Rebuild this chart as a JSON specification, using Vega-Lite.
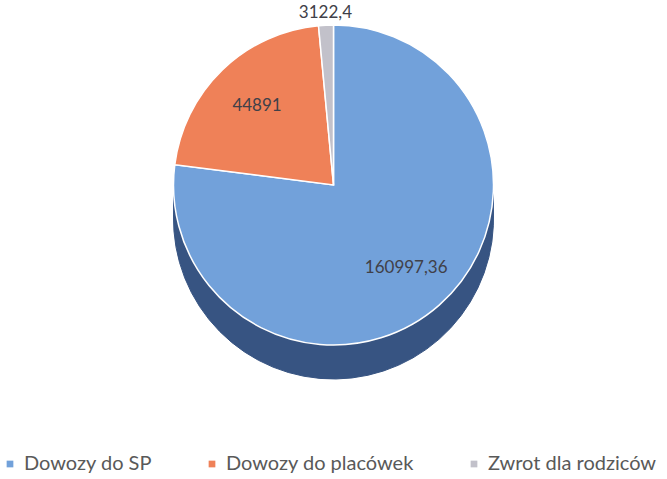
{
  "$schema": "https://vega.github.io/schema/vega-lite/v6.json",
  "width": 667,
  "height": 370,
  "padding": 0,
  "background": "white",
  "data": {
    "values": [
      {"cat": "Dowozy do SP", "value": 160997.36, "label": "160997,36"},
      {"cat": "Dowozy do placówek", "value": 44891, "label": "44891"},
      {"cat": "Zwrot dla rodziców", "value": 3122.4, "label": "3122,4"}
    ]
  },
  "encoding": {
    "theta": {"field": "value", "type": "quantitative", "stack": true},
    "order": {"field": "cat", "sort": "ascending"}
  },
  "layer": [
    {
      "mark": {"type": "arc", "outerRadius": 160, "yOffset": 12, "color": "#41619a", "stroke": "#41619a", "strokeWidth": 1}
    },
    {
      "mark": {"type": "arc", "outerRadius": 160, "yOffset": 24, "color": "#3d5c90", "stroke": "#3d5c90", "strokeWidth": 1}
    },
    {
      "mark": {"type": "arc", "outerRadius": 160, "yOffset": 34, "color": "#375482", "stroke": "#375482", "strokeWidth": 1}
    },
    {
      "mark": {"type": "arc", "outerRadius": 160, "stroke": "white", "strokeWidth": 1.5},
      "encoding": {
        "color": {
          "field": "cat",
          "type": "nominal",
          "scale": {
            "domain": ["Dowozy do SP", "Dowozy do placówek", "Zwrot dla rodziców"],
            "range": ["#72a1da", "#ef8158", "#c2c1ca"]
          },
          "legend": {
            "title": null,
            "orient": "bottom",
            "direction": "horizontal",
            "offset": 84,
            "symbolType": "square",
            "symbolSize": 45,
            "symbolStrokeWidth": 0,
            "labelFont": "Lato",
            "labelFontSize": 20,
            "labelColor": "#595959",
            "columnPadding": 50,
            "labelLimit": 300
          }
        }
      }
    },
    {
      "mark": {"type": "text", "radius": 110, "font": "Lato", "fontSize": 17, "color": "#404048"},
      "encoding": {
        "text": {
          "condition": {"test": "datum.cat !== 'Zwrot dla rodziców'", "field": "label"},
          "value": ""
        }
      }
    },
    {
      "mark": {"type": "text", "radius": 172, "font": "Lato", "fontSize": 17, "color": "#404048"},
      "encoding": {
        "text": {
          "condition": {"test": "datum.cat === 'Zwrot dla rodziców'", "field": "label"},
          "value": ""
        }
      }
    }
  ],
  "config": {"view": {"stroke": null}}
}
